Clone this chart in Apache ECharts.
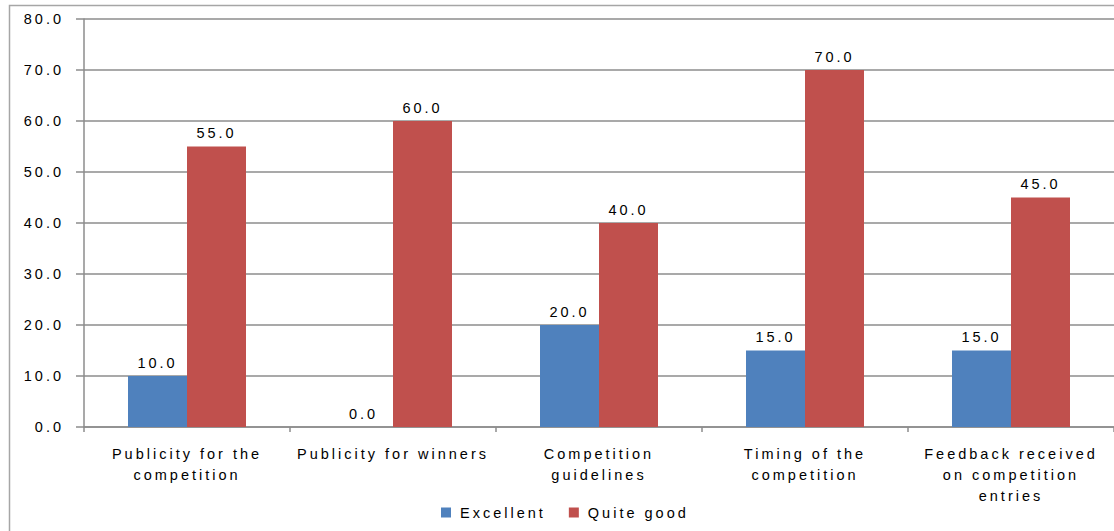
<!DOCTYPE html>
<html>
<head>
<meta charset="utf-8">
<script src="https://cdn.jsdelivr.net/npm/echarts@6/dist/echarts.min.js"></script>
<style>
  html, body { margin: 0; padding: 0; background: #fff; }
  #chart { width: 1114px; height: 531px; }
  #chart text { letter-spacing: 3px; }
</style>
</head>
<body>
<div id="chart"></div>
<script>
// Rating categories and the share of responses per rating
const categories = [
  'Publicity for the\ncompetition',
  'Publicity for winners',
  'Competition\nguidelines',
  'Timing of the\ncompetition',
  'Feedback received\non competition\nentries'
];
const excellent = [10, 0, 20, 15, 15];
const quiteGood = [55, 60, 40, 70, 45];
const seriesNames = ['Excellent', 'Quite good'];
const yMin = 0, yMax = 80, yStep = 10;

const FONT = 'Liberation Sans';
const FONT_SIZE = 14.5;
const AXIS_GREY = '#8c8c8c';

const chart = echarts.init(document.getElementById('chart'), null, { renderer: 'svg' });

const labelOpt = {
  show: true,
  position: 'top',
  distance: 6,
  color: '#000',
  fontFamily: FONT,
  fontSize: FONT_SIZE,
  formatter: p => p.value.toFixed(1)
};

chart.setOption({
  animation: false,
  backgroundColor: '#fff',
  textStyle: { fontFamily: FONT },
  graphic: [{
    type: 'rect',
    shape: { x: 9.5, y: 5.5, width: 1300, height: 700 },
    style: { fill: 'none', stroke: '#a6a6a6', lineWidth: 1.5 },
    silent: true,
    z: -10
  }],
  grid: { left: 84, right: 0, top: 19, bottom: 104 },
  legend: {
    bottom: 6,
    left: 436,
    itemWidth: 10,
    itemHeight: 10,
    // letter-spaced text is wider than ECharts measures, so the gap makes up for it
    itemGap: 50,
    icon: 'rect',
    textStyle: { fontFamily: FONT, fontSize: FONT_SIZE, color: '#000', padding: [0, 0, 0, 4] },
    data: seriesNames
  },
  xAxis: {
    type: 'category',
    data: categories,
    axisLine: { lineStyle: { color: AXIS_GREY, width: 1.5 } },
    axisTick: { show: true, length: 5, lineStyle: { color: AXIS_GREY, width: 1.5 } },
    axisLabel: {
      interval: 0,
      margin: 16,
      color: '#000',
      fontFamily: FONT,
      fontSize: FONT_SIZE,
      lineHeight: 21
    }
  },
  yAxis: {
    type: 'value',
    min: yMin,
    max: yMax,
    interval: yStep,
    axisLine: { show: true, lineStyle: { color: AXIS_GREY, width: 1.5 } },
    axisTick: { show: true, length: 8, lineStyle: { color: AXIS_GREY, width: 1.5 } },
    splitLine: { lineStyle: { color: AXIS_GREY, width: 1.5 } },
    axisLabel: {
      margin: 20,
      color: '#000',
      fontFamily: FONT,
      fontSize: FONT_SIZE,
      formatter: v => v.toFixed(1)
    }
  },
  series: [
    {
      name: seriesNames[0],
      type: 'bar',
      data: excellent,
      barWidth: 59,
      barGap: '0%',
      itemStyle: { color: '#4f81bd' },
      label: labelOpt
    },
    {
      name: seriesNames[1],
      type: 'bar',
      data: quiteGood,
      barWidth: 59,
      barGap: '0%',
      itemStyle: { color: '#c0504d' },
      label: labelOpt
    }
  ]
});
</script>
</body>
</html>
